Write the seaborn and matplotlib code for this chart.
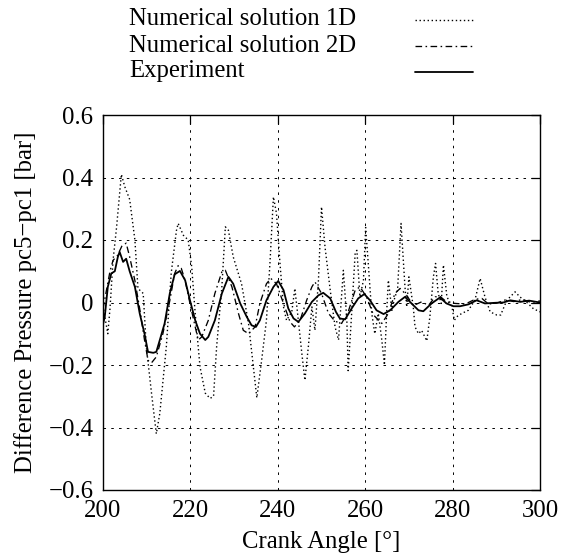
import matplotlib
matplotlib.use("Agg")
import matplotlib.pyplot as plt
from matplotlib.lines import Line2D
from matplotlib.ticker import FuncFormatter
import seaborn as sns
import pandas as pd

# ---------------- data ----------------
angle_1d = [200.0, 200.6, 201.1, 201.6, 202.3, 203.1, 204.2, 205.0, 206.1, 207.3,
            208.0, 209.2, 209.9, 211.1, 212.2, 213.0, 214.5, 215.6, 216.8, 217.2,
            218.4, 219.5, 220.3, 221.1, 222.2, 223.4, 224.5, 225.3, 226.0, 227.2,
            228.0, 228.7, 229.8, 231.7, 233.3, 235.2, 236.3, 237.4, 238.2, 239.0,
            239.7, 240.5, 241.3, 242.0, 243.2, 243.9, 244.7, 245.5, 246.2, 247.0,
            247.8, 248.5, 249.3, 250.0, 250.8, 252.0, 253.1, 253.9, 254.2, 255.0,
            255.8, 256.1, 256.9, 257.7, 258.1, 258.8, 259.6, 260.1, 260.7, 261.5,
            262.2, 263.0, 263.8, 264.4, 264.9, 265.3, 266.1, 266.8, 267.4, 268.2,
            269.1, 269.5, 270.0, 271.0, 271.4, 272.2, 272.9, 274.1, 274.8, 275.6,
            276.1, 276.7, 277.4, 277.9, 278.7, 279.8, 280.4, 280.9, 282.1, 283.6,
            285.1, 286.3, 287.4, 288.6, 290.1, 291.0, 292.4, 294.3, 295.4, 297.0,
            298.5, 300.0]
dp_1d = [-0.01, -0.06, -0.10, -0.02, 0.135, 0.24, 0.41, 0.37, 0.33, 0.20,
         0.045, 0.029, -0.14, -0.29, -0.42, -0.355, -0.14, 0.093, 0.23, 0.253,
         0.215, 0.20, 0.114, -0.035, -0.206, -0.29, -0.307, -0.30, -0.142, 0.05,
         0.242, 0.231, 0.146, 0.06, -0.067, -0.305, -0.185, -0.057, 0.125, 0.338,
         0.285, 0.125, -0.014, -0.057, -0.03, 0.045, -0.057, -0.163, -0.249, -0.14,
         -0.014, -0.089, 0.071, 0.306, 0.178, 0.039, -0.078, -0.12, -0.057, 0.103,
         -0.057, -0.218, -0.035, 0.157, 0.167, 0.018, 0.071, 0.24, 0.125, -0.035,
         -0.10, -0.035, -0.12, -0.20, -0.035, 0.071, -0.025, 0.018, 0.039, 0.253,
         0.05, -0.014, 0.082, -0.014, -0.078, -0.10, -0.089, -0.123, -0.046, 0.082,
         0.125, 0.029, -0.003, 0.12, 0.018, -0.01, -0.057, -0.046, -0.035, -0.025,
         0.007, 0.077, 0.018, -0.03, -0.04, -0.04, 0.007, 0.034, 0.018, 0.0,
         -0.02, -0.03]

angle_2d = [200.0, 200.8, 201.6, 202.3, 203.3, 204.3, 205.3, 206.1, 207.3, 208.4,
            209.5, 210.3, 211.1, 212.2, 213.7, 215.3, 216.4, 217.2, 217.9, 218.8,
            219.9, 221.1, 221.8, 222.6, 224.1, 225.6, 227.2, 228.0, 229.5, 231.0,
            232.1, 233.3, 234.8, 235.9, 237.4, 238.4, 239.7, 241.3, 242.8, 243.8,
            245.1, 246.6, 247.8, 248.5, 250.0, 251.6, 253.1, 254.6, 256.1, 257.7,
            258.8, 260.3, 261.9, 263.8, 265.3, 266.8, 268.0, 269.5, 271.0, 272.9,
            274.5, 276.0, 277.1, 278.6, 280.6, 282.9, 285.1, 286.7, 288.2, 290.1,
            292.0, 294.0, 296.0, 298.0, 300.0]
dp_2d = [-0.02, 0.04, 0.10, 0.135, 0.15, 0.18, 0.19, 0.146, 0.07, -0.02,
         -0.12, -0.185, -0.193, -0.174, -0.10, 0.007, 0.093, 0.118, 0.11, 0.07,
         -0.003, -0.078, -0.12, -0.11, -0.057, 0.029, 0.098, 0.103, 0.05, -0.035,
         -0.089, -0.10, -0.078, -0.003, 0.06, 0.077, 0.06, -0.003, -0.062, -0.078,
         -0.057, 0.007, 0.05, 0.066, 0.029, -0.035, -0.06, -0.067, -0.03, 0.039,
         0.05, 0.018, -0.04, -0.067, -0.035, 0.029, 0.045, 0.023, -0.01, 0.002,
         -0.009, 0.018, 0.02, 0.002, -0.003, -0.005, 0.01, 0.013, -0.005, -0.002,
         0.008, 0.003, 0.01, 0.0, 0.005]

angle_exp = [200.0, 200.4, 201.1, 201.9, 202.7, 203.4, 203.8, 204.6, 205.3, 206.1,
             207.3, 208.4, 209.5, 210.3, 211.5, 212.2, 213.0, 214.1, 215.3, 216.4,
             217.6, 218.8, 219.9, 221.1, 222.2, 223.4, 224.1, 225.6, 227.2, 228.7,
             229.8, 231.4, 232.9, 234.0, 235.0, 235.9, 237.4, 239.0, 240.1, 241.3,
             242.4, 243.6, 244.7, 246.2, 247.8, 249.3, 250.4, 252.0, 253.3, 254.2,
             255.4, 256.9, 258.4, 259.8, 261.1, 262.6, 264.2, 265.7, 267.6, 269.1,
             270.6, 272.2, 273.3, 275.2, 277.1, 278.6, 280.2, 281.7, 283.6, 285.5,
             287.4, 289.7, 291.6, 293.2, 295.5, 297.5, 300.0]
dp_exp = [-0.07, -0.046, 0.05, 0.093, 0.10, 0.146, 0.162, 0.13, 0.14, 0.10,
          0.05, -0.035, -0.10, -0.158, -0.161, -0.158, -0.12, -0.067, 0.03, 0.09,
          0.101, 0.071, 0.007, -0.057, -0.10, -0.12, -0.11, -0.057, 0.029, 0.082,
          0.06, -0.003, -0.046, -0.073, -0.078, -0.057, 0.007, 0.05, 0.069, 0.04,
          -0.019, -0.051, -0.062, -0.035, 0.002, 0.023, 0.031, 0.013, -0.03, -0.051,
          -0.054, -0.019, 0.013, 0.027, 0.007, -0.025, -0.037, -0.025, 0.002, 0.018,
          -0.003, -0.025, -0.028, -0.003, 0.016, -0.003, -0.012, -0.012, -0.006, 0.007,
          -0.003, -0.001, 0.0, 0.007, 0.002, 0.006, 0.0]

series_labels = ["Numerical solution 1D", "Numerical solution 2D", "Experiment"]
x_ticks = [200, 220, 240, 260, 280, 300]
y_ticks = [-0.6, -0.4, -0.2, 0, 0.2, 0.4, 0.6]
x_label = "Crank Angle [°]"
y_label = "Difference Pressure pc5\u2212pc1 [bar]"

# ---------------- style ----------------
sns.set_style("white")
plt.rcParams["font.family"] = ["Liberation Serif", "DejaVu Serif"]
plt.rcParams["axes.unicode_minus"] = True
FS = 17.8

fig = plt.figure(figsize=(5.7, 5.53), dpi=100)
W, H = 570.0, 553.0
ax = fig.add_axes([103 / W, 1 - 490 / H, 437 / W, 375 / H])

styles = [
    dict(color="black", lw=1.0, dashes=(1.0, 1.9)),            # dotted
    dict(color="black", lw=0.95, dashes=(5.0, 2.6, 1.2, 2.6)), # dash-dot
    dict(color="black", lw=1.3),                                # solid
]
data = [(angle_1d, dp_1d), (angle_2d, dp_2d), (angle_exp, dp_exp)]

for (xs, ys), st in zip(data, styles):
    df = pd.DataFrame({"angle": xs, "dp": ys})
    line_ax = sns.lineplot(data=df, x="angle", y="dp", ax=ax, estimator=None,
                           legend=False, color=st["color"], lw=st["lw"])
    ln = line_ax.lines[-1]
    if "dashes" in st:
        ln.set_dashes(st["dashes"])
    ln.set_zorder(3)

ax.set_xlim(200, 300)
ax.set_ylim(-0.6, 0.6)
ax.set_xticks(x_ticks)
ax.set_yticks(y_ticks)

def fmt(v, pos):
    s = "%g" % round(v, 3)
    if s == "-0":
        s = "0"
    return s.replace("-", "\u2212")

ax.yaxis.set_major_formatter(FuncFormatter(fmt))
ax.xaxis.set_major_formatter(FuncFormatter(fmt))

ax.grid(True, color="black", lw=0.7, linestyle=(0, (2.6, 5.4)))
ax.set_axisbelow(True)
for sp in ax.spines.values():
    sp.set_color("black")
    sp.set_linewidth(1.0)
ax.tick_params(direction="in", length=6.5, width=0.9, top=True, right=True,
               labelsize=FS, pad=7, colors="black")

ax.set_xlabel(x_label, fontsize=FS, color="black")
ax.set_ylabel(y_label, fontsize=FS, color="black")
ax.xaxis.set_label_coords(0.5, -0.11)
ax.yaxis.set_label_coords(-0.15, 0.5)

# ---------------- key (gnuplot style, outside top) ----------------
rows_y = [19.0, 45.5, 71.5]
for lab, st, yy in zip(series_labels, styles, rows_y):
    fig.text(129 / W, 1 - yy / H, lab, fontsize=FS, ha="left", va="center",
             color="black")
    l = Line2D([415 / W, 473 / W], [1 - (yy + 0.5) / H, 1 - (yy + 0.5) / H],
               transform=fig.transFigure, color="black", lw=st["lw"])
    if "dashes" in st:
        l.set_dashes(st["dashes"])
    fig.add_artist(l)

fig.savefig("out.png", dpi=100)
